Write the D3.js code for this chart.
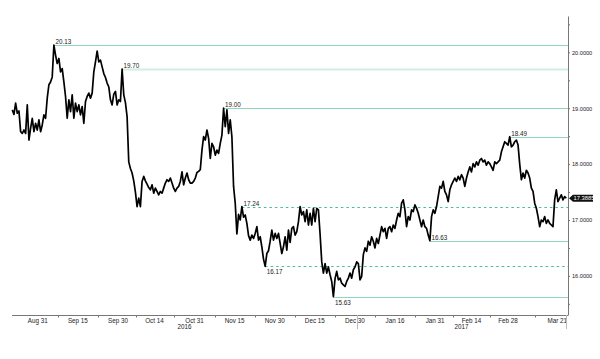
<!DOCTYPE html>
<html><head><meta charset="utf-8">
<script src="https://cdn.jsdelivr.net/npm/d3@7"></script>
<style>body{margin:0;background:#fff} svg{display:block}</style>
</head><body><svg id="c" width="600" height="359"></svg>
<script>
const startDate = "2016-08-22";
const endDate = "2017-03-22";
const prices = [
18.97,18.89,19.09,18.91,18.95,18.58,18.55,18.61,18.55,19.06,
18.43,18.64,18.82,18.58,18.73,18.61,18.79,18.58,18.70,18.88,
18.82,19.18,19.42,19.47,19.56,20.13,19.95,19.80,19.89,19.65,
19.71,19.47,19.21,18.82,19.15,18.94,19.24,18.82,19.09,18.94,
19.06,18.88,19.03,18.73,19.12,19.21,19.27,19.18,19.27,19.65,
19.83,20.02,19.83,19.86,19.74,19.62,19.55,19.45,19.38,19.15,
19.06,19.25,19.30,19.06,19.15,19.12,19.70,19.24,19.10,18.85,
18.04,17.92,17.84,17.70,17.50,17.24,17.39,17.24,17.69,17.78,
17.70,17.64,17.58,17.54,17.63,17.48,17.57,17.51,17.45,17.51,
17.48,17.57,17.66,17.72,17.69,17.75,17.66,17.57,17.51,17.57,
17.60,17.69,17.86,17.63,17.75,17.84,17.72,17.66,17.66,17.69,
17.75,17.85,17.87,17.90,18.25,18.49,18.43,18.61,18.46,18.10,
18.37,18.31,18.16,18.25,18.19,18.37,18.52,19.00,18.67,18.97,
18.55,18.79,18.49,17.60,17.30,16.75,17.10,17.00,17.24,17.05,
17.09,16.94,16.72,16.64,16.73,16.67,16.76,16.88,16.64,16.70,
16.52,16.30,16.17,16.40,16.45,16.62,16.82,16.64,16.76,16.67,
16.76,16.58,16.40,16.52,16.70,16.46,16.82,16.60,16.85,16.88,
16.73,16.79,16.97,17.24,17.09,17.15,16.97,17.18,16.91,17.12,
16.91,17.21,16.97,17.21,17.18,16.75,16.25,16.05,16.22,16.05,
16.16,16.02,15.90,15.63,15.95,16.08,15.93,15.96,15.87,15.84,
15.81,15.90,15.96,16.05,15.96,16.11,16.16,16.25,16.22,15.93,
15.99,16.38,16.50,16.44,16.62,16.55,16.70,16.62,16.50,16.67,
16.58,16.73,16.88,16.79,16.85,16.67,16.85,16.88,16.79,16.91,
16.85,17.00,17.12,17.06,17.30,17.36,17.18,16.88,17.06,17.00,
17.18,17.15,17.27,17.21,17.12,17.00,16.88,17.00,16.88,16.85,
16.73,16.63,17.06,17.18,17.12,17.24,17.42,17.60,17.57,17.69,
17.51,17.45,17.33,17.54,17.63,17.69,17.75,17.69,17.78,17.72,
17.81,17.75,17.60,17.75,17.86,17.95,17.86,18.01,17.95,18.04,
17.98,18.07,18.10,18.04,18.07,17.98,18.04,18.01,17.95,17.89,
18.04,18.01,18.04,18.07,18.22,18.31,18.40,18.37,18.34,18.49,
18.31,18.34,18.40,18.43,18.34,18.00,17.72,17.84,17.75,17.89,
17.84,17.75,17.57,17.51,17.30,17.21,17.06,16.88,17.00,16.97,
17.06,16.94,17.00,16.94,16.91,16.88,17.36,17.54,17.33,17.39,
17.45,17.36,17.42,17.3885
];
const lastPriceLabel = "17.3885";
const tickDates = ["2016-08-31","2016-09-15","2016-09-30","2016-10-14","2016-10-31","2016-11-15","2016-11-30","2016-12-15","2016-12-30","2017-01-16","2017-01-31","2017-02-14","2017-02-28","2017-03-21"];
const tickLabels = ["Aug 31","Sep 15","Sep 30","Oct 14","Oct 31","Nov 15","Nov 30","Dec 15","Dec 30","Jan 16","Jan 31","Feb 14","Feb 28","Mar 21"];
const yearLabels = ["2016","2017"];
const yearStarts = ["2016-08-22","2017-01-01"];
const levelValues = [20.13,19.70,19.00,18.49,17.24,16.63,16.17,15.63];
const levelDates = ["2016-09-06","2016-10-03","2016-11-10","2017-02-28","2016-11-17","2017-01-27","2016-11-25","2016-12-22"];
const levelStyles = ["solid","pale","solid","solid","dashed","solid","dashed","solid"];
const levelLabelSide = ["above","above","above","above","above","above","below","below"];
const yTickValues = d3.range(15.5, 20.51, 0.5);

const svg = d3.select("#c");
const parse = d3.utcParse("%Y-%m-%d");
const s0 = parse(startDate);
function tIndex(s){
  const d = parse(s);
  return d3.utcDays(s0, d).filter(x => { const w = x.getUTCDay(); return w !== 0 && w !== 6; }).length;
}
const T = tIndex(endDate);
const x = d3.scaleLinear().domain([0, T]).range([12.3, 566.3]);
const y = d3.scaleLinear().domain([15.3, 20.65]).range([315, 16]);
const tOf = i => i * T / (prices.length - 1);

const axisX = 568, axisY = 315;
const font = "'Liberation Sans', Arial, sans-serif";

// levels
const solidCol = "#8fd6b9", paleCol = "#d2ede2", dashCol = "#45c18f";
levelValues.forEach((v, k) => {
  const ta = tIndex(levelDates[k]);
  let best = -1, bd = Infinity;
  prices.forEach((p, i) => {
    const t = tOf(i);
    if (Math.abs(t - ta) <= 3.5) {
      const dd = Math.abs(p - v) + Math.abs(t - ta) * 0.001;
      if (dd < bd) { bd = dd; best = i; }
    }
  });
  const x0 = x(tOf(best));
  const yy = Math.round(y(v)) + 0.5;
  const st = levelStyles[k];
  svg.append("line").attr("x1", x0).attr("x2", axisX).attr("y1", yy).attr("y2", yy)
    .attr("stroke", st === "dashed" ? dashCol : st === "pale" ? paleCol : solidCol)
    .attr("stroke-width", st === "pale" ? 2 : 1)
    .attr("stroke-dasharray", st === "dashed" ? "2.5,3" : null);
  svg.append("text").attr("x", x0 + 1.5)
    .attr("y", levelLabelSide[k] === "above" ? yy - 1.5 : yy + 7)
    .attr("font-family", font).attr("font-size", 6.3).attr("fill", "#222")
    .text(v.toFixed(2));
});

// price line
const line = d3.line().x((d, i) => x(tOf(i))).y(d => y(d));
svg.append("path").datum(prices).attr("d", line)
  .attr("fill", "none").attr("stroke", "#000").attr("stroke-width", 1.7).attr("stroke-linejoin", "round");

// y axis
const yAxis = d3.axisRight(y).tickValues(yTickValues).tickSize(2).tickSizeOuter(0).tickPadding(2)
  .tickFormat(d => Math.abs(d % 1) < 1e-9 ? d.toFixed(4) : "");
const gy = svg.append("g").attr("transform", `translate(${axisX},0)`).call(yAxis);
gy.select(".domain").attr("stroke", "#777");
gy.selectAll(".tick line").attr("stroke", "#777");
gy.selectAll("text").attr("font-family", font).attr("font-size", 5.6).attr("fill", "#222");

// x axis
svg.append("line").attr("x1", 12).attr("x2", axisX).attr("y1", axisY + 0.5).attr("y2", axisY + 0.5).attr("stroke", "#777");
const tickTs = tickDates.map(tIndex);
for (let i = 0; i < tickTs.length - 1; i++) {
  const mx = Math.round(x((tickTs[i] + tickTs[i + 1]) / 2)) + 0.5;
  svg.append("line").attr("x1", mx).attr("x2", mx).attr("y1", axisY).attr("y2", axisY + 2.5).attr("stroke", "#777");
}
tickLabels.forEach((lab, i) => {
  const t = svg.append("text").attr("x", x(tickTs[i])).attr("y", axisY + 7.5)
    .attr("text-anchor", "middle").attr("font-family", font).attr("font-size", 6.3).attr("fill", "#222").text(lab);
  const w = t.node().getComputedTextLength();
  if (x(tickTs[i]) + w / 2 > axisX - 1) t.attr("x", axisX - 1 - w / 2);
});
// year separators & labels
const yb = tIndex(yearStarts[1]) - 0.5;
const sepX = [x(yb), x(T)];
sepX.forEach(sx => {
  const r = Math.round(sx) + 0.5;
  svg.append("line").attr("x1", r).attr("x2", r).attr("y1", axisY).attr("y2", axisY + 14).attr("stroke", "#bbb");
});
const yrBounds = [[x(0), x(yb)], [x(yb), x(T)]];
yearLabels.forEach((yl, i) => {
  svg.append("text").attr("x", (yrBounds[i][0] + yrBounds[i][1]) / 2).attr("y", axisY + 13.5)
    .attr("text-anchor", "middle").attr("font-family", font).attr("font-size", 6.3).attr("fill", "#222").text(yl);
});

// last price tag
const ly = y(prices[prices.length - 1]);
const bx = axisX + 1;
svg.append("path")
  .attr("d", `M${bx},${ly} L${bx + 4},${ly - 3.5} L${bx + 24},${ly - 3.5} L${bx + 24},${ly + 3.5} L${bx + 4},${ly + 3.5} Z`)
  .attr("fill", "#111");
svg.append("text").attr("x", bx + 4.5).attr("y", ly + 2.1).attr("font-family", font).attr("font-size", 5.8)
  .attr("fill", "#fff").text(lastPriceLabel);
</script></body></html>
